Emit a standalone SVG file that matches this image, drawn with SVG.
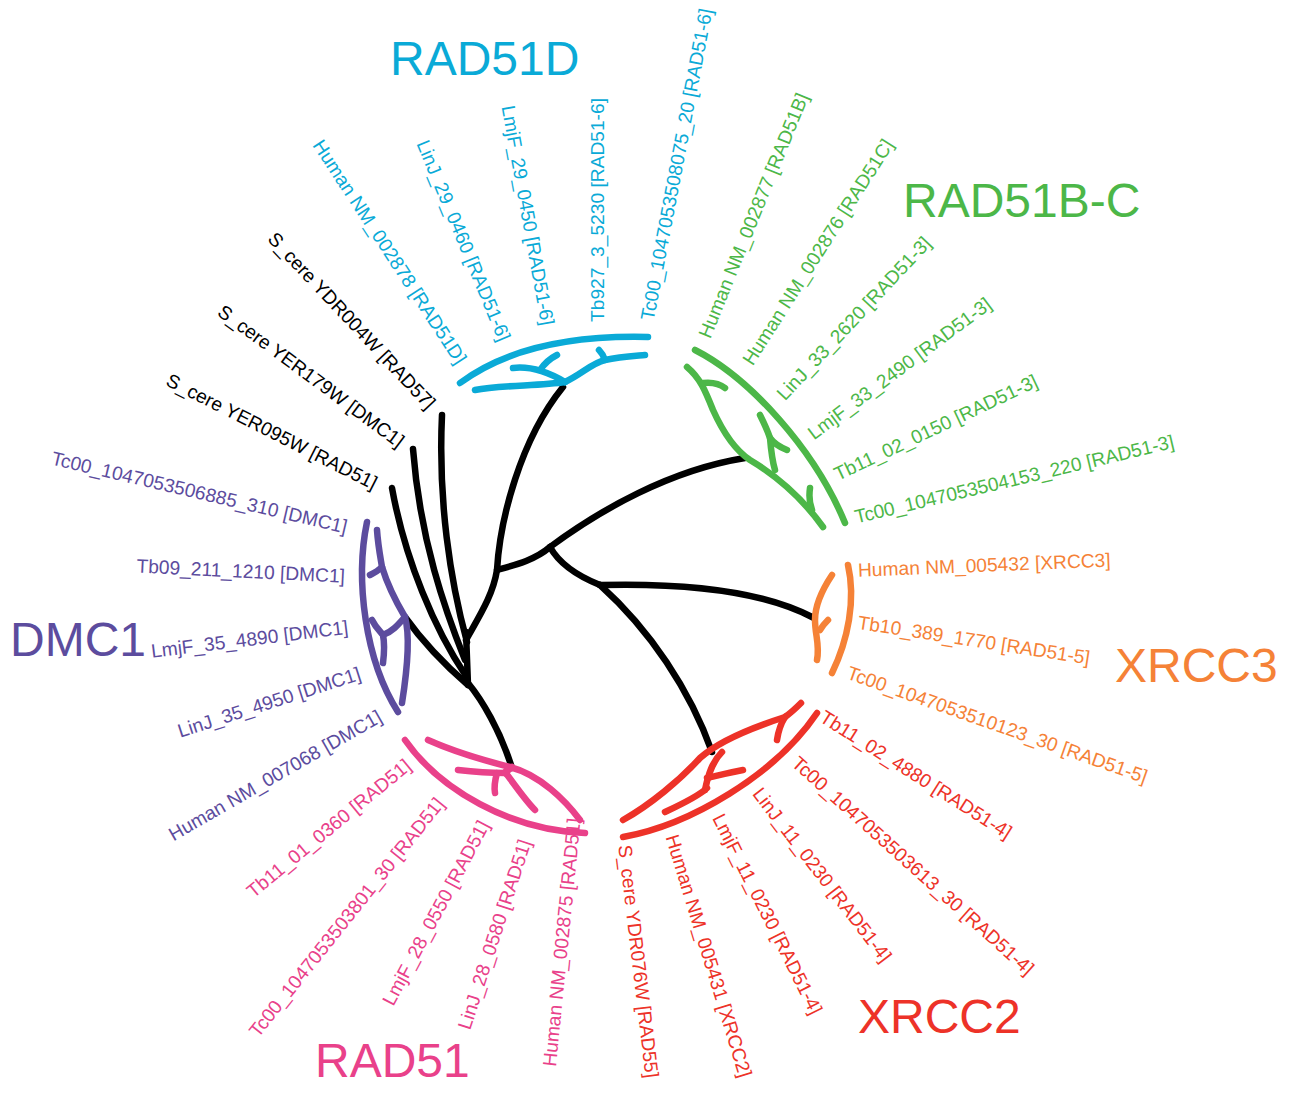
<svg xmlns="http://www.w3.org/2000/svg" width="1295" height="1094" viewBox="0 0 1295 1094">
<style>
.b{fill:none;stroke-linecap:round;stroke-linejoin:round;stroke-width:6.5}
.k{stroke:#000}
.cy{stroke:#0aaad7}.gr{stroke:#4cb748}.or{stroke:#f58237}.rd{stroke:#ed3228}.pk{stroke:#e9418a}.pu{stroke:#5c4c9e}
text{font-family:"Liberation Sans",Arial,sans-serif;font-size:19.2px}
.t{font-size:48px}
.s{text-anchor:start}.e{text-anchor:end}
.fcy{fill:#0aaad7}.fgr{fill:#4cb748}.for{fill:#f58237}.frd{fill:#ed3228}.fpk{fill:#e9418a}.fpu{fill:#5c4c9e}.fk{fill:#000}
</style>
<rect width="1295" height="1094" fill="#fff"/>
<g id="connectors" class="b k">
<path d="M442 415 C438 500 450 580 467 642"/>
<path d="M413 449 C420 540 445 610 465 660"/>
<path d="M392 488 C405 560 435 630 466 676"/>
<path d="M466 632 L468 685"/>
<path d="M468 683 C482 700 500 730 512 768"/>
<path d="M405 617 C425 645 445 665 468 685"/>
<path d="M466 640 C480 615 493 595 497 570 C500 520 520 440 563 387"/>
<path d="M497 570 C515 565 535 560 550 547"/>
<path d="M550 547 C600 510 670 470 745 458"/>
<path d="M550 547 C560 565 580 577 600 585"/>
<path d="M600 585 C680 583 760 590 812 617"/>
<path d="M600 585 C650 630 690 690 712 752"/>
</g>
<g id="RAD51D">
<g class="b cy">
<path d="M460 383 Q526 334 648 337"/>
<path d="M475 390 C500 385 540 386 565 382"/>
<path d="M513 368 C530 366 548 372 565 382"/>
<path d="M540 370 Q547 360 557 355"/>
<path d="M565 382 C582 374 592 363 605 360 C620 357 635 356 645 355"/>
<path d="M605 360 Q603 354 599 350"/>
</g>
<text class="t fcy" x="390" y="75">RAD51D</text>
<text class="fcy e" dy=".35em" transform="translate(462,362) rotate(56.8)">Human NM_002878 [RAD51D]</text>
<text class="fcy e" dy=".35em" transform="translate(505,340) rotate(67.5)">LinJ_29_0460 [RAD51-6]</text>
<text class="fcy e" dy=".35em" transform="translate(548,325) rotate(79.7)">LmjF_29_0450 [RAD51-6]</text>
<text class="fcy s" dy=".35em" transform="translate(597,322) rotate(-90)">Tb927_3_5230 [RAD51-6]</text>
<text class="fcy s" dy=".35em" transform="translate(647,320) rotate(-79.3)">Tc00_1047053508075_20 [RAD51-6]</text>
</g>
<g id="RAD51B-C">
<g class="b gr">
<path d="M695 350 C750 378 815 450 845 523"/>
<path d="M687 367 C700 378 705 390 713 410 C722 430 735 450 750 460 C775 475 800 495 823 527"/>
<path d="M703 383 C712 382 720 384 725 388"/>
<path d="M760 415 C765 425 768 432 770 438 C775 445 782 448 787 450"/>
<path d="M770 438 C771 450 772 460 775 470"/>
<path d="M810 488 C809 495 809 502 812 510"/>
</g>
<text class="t fgr" x="903" y="217">RAD51B-C</text>
<text class="fgr s" dy=".35em" transform="translate(704,337) rotate(-67.9)">Human NM_002877 [RAD51B]</text>
<text class="fgr s" dy=".35em" transform="translate(747,363) rotate(-57.5)">Human NM_002876 [RAD51C]</text>
<text class="fgr s" dy=".35em" transform="translate(780,397) rotate(-46.9)">LinJ_33_2620 [RAD51-3]</text>
<text class="fgr s" dy=".35em" transform="translate(810,435) rotate(-36.7)">LmjF_33_2490 [RAD51-3]</text>
<text class="fgr s" dy=".35em" transform="translate(835,475) rotate(-25.3)">Tb11_02_0150 [RAD51-3]</text>
<text class="fgr s" dy=".35em" transform="translate(855,517) rotate(-13.4)">Tc00_1047053504153_220 [RAD51-3]</text>
</g>
<g id="XRCC3">
<g class="b or">
<path d="M848 565 C856 600 848 640 832 673"/>
<path d="M832 575 C822 590 815 605 815 620 C815 635 820 645 817 660"/>
<path d="M820 630 C823 625 826 622 828 620"/>
</g>
<text class="t for" x="1115" y="682">XRCC3</text>
<text class="for s" dy=".35em" transform="translate(858,570) rotate(-2.3)">Human NM_005432 [XRCC3]</text>
<text class="for s" dy=".35em" transform="translate(858,622) rotate(8.8)">Tb10_389_1770 [RAD51-5]</text>
<text class="for s" dy=".35em" transform="translate(848,672) rotate(19.4)">Tc00_1047053510123_30 [RAD51-5]</text>
</g>
<g id="XRCC2">
<g class="b rd">
<path d="M623 837 C690 825 775 775 817 713"/>
<path d="M623 820 C650 805 680 780 700 758 C720 740 760 725 785 717 C792 712 797 707 801 703"/>
<path d="M785 717 C780 725 778 733 777 740"/>
<path d="M665 812 C680 805 700 795 707 788"/>
<path d="M705 790 C708 775 712 762 722 752"/>
<path d="M707 778 C720 775 732 772 743 770"/>
</g>
<text class="t frd" x="858" y="1033">XRCC2</text>
<text class="frd s" dy=".35em" transform="translate(822,715) rotate(32.3)">Tb11_02_4880 [RAD51-4]</text>
<text class="frd s" dy=".35em" transform="translate(795,760) rotate(41.8)">Tc00_1047053503613_30 [RAD51-4]</text>
<text class="frd s" dy=".35em" transform="translate(757,790) rotate(52.4)">LinJ_11_0230 [RAD51-4]</text>
<text class="frd s" dy=".35em" transform="translate(718,815) rotate(63.4)">LmjF_11_0230 [RAD51-4]</text>
<text class="frd s" dy=".35em" transform="translate(672,835) rotate(73)">Human NM_005431 [XRCC2]</text>
<text class="frd s" dy=".35em" transform="translate(625,845) rotate(83.3)">S_cere YDR076W [RAD55]</text>
</g>
<g id="RAD51">
<g class="b pk">
<path d="M405 740 C440 790 510 830 585 833"/>
<path d="M428 740 C455 752 490 762 510 767 C540 775 565 800 580 820"/>
<path d="M458 770 C475 772 490 773 505 773"/>
<path d="M497 773 C495 780 494 787 495 793"/>
<path d="M505 772 C515 785 525 800 535 810"/>
<path d="M505 773 L512 767"/>
</g>
<text class="t fpk" x="315" y="1077">RAD51</text>
<text class="fpk e" dy=".35em" transform="translate(574,818) rotate(-84.3)">Human NM_002875 [RAD51]</text>
<text class="fpk e" dy=".35em" transform="translate(525,840) rotate(-72)">LinJ_28_0580 [RAD51]</text>
<text class="fpk e" dy=".35em" transform="translate(484,822) rotate(-62)">LmjF_28_0550 [RAD51]</text>
<text class="fpk e" dy=".35em" transform="translate(440,800) rotate(-51.4)">Tc00_1047053503801_30 [RAD51]</text>
<text class="fpk e" dy=".35em" transform="translate(408,763) rotate(-39.4)">Tb11_01_0360 [RAD51]</text>
</g>
<g id="DMC1">
<g class="b pu">
<path d="M367 522 C355 580 365 660 398 712"/>
<path d="M377 530 C378 545 380 555 382 567 C386 580 392 595 405 617 C410 635 408 665 402 703"/>
<path d="M382 567 C378 571 374 573 370 575"/>
<path d="M372 620 C376 628 380 631 383 635 C385 645 384 655 383 663"/>
<path d="M383 635 C392 632 398 625 405 617"/>
</g>
<text class="t fpu" x="10" y="656">DMC1</text>
<text class="fpu e" dy=".35em" transform="translate(380,715) rotate(-29.9)">Human NM_007068 [DMC1]</text>
<text class="fpu e" dy=".35em" transform="translate(360,673) rotate(-17.8)">LinJ_35_4950 [DMC1]</text>
<text class="fpu e" dy=".35em" transform="translate(348,627) rotate(-7)">LmjF_35_4890 [DMC1]</text>
<text class="fpu e" dy=".35em" transform="translate(345,576) rotate(2.8)">Tb09_211_1210 [DMC1]</text>
<text class="fpu e" dy=".35em" transform="translate(347,527) rotate(13.2)">Tc00_1047053506885_310 [DMC1]</text>
</g>
<g id="S_cere">
<text class="fk e" dy=".35em" transform="translate(376,484) rotate(26.8)">S_cere YER095W [RAD51]</text>
<text class="fk e" dy=".35em" transform="translate(402,443) rotate(36.4)">S_cere YER179W [DMC1]</text>
<text class="fk e" dy=".35em" transform="translate(432,406) rotate(46.8)">S_cere YDR004W [RAD57]</text>
</g>
</svg>
